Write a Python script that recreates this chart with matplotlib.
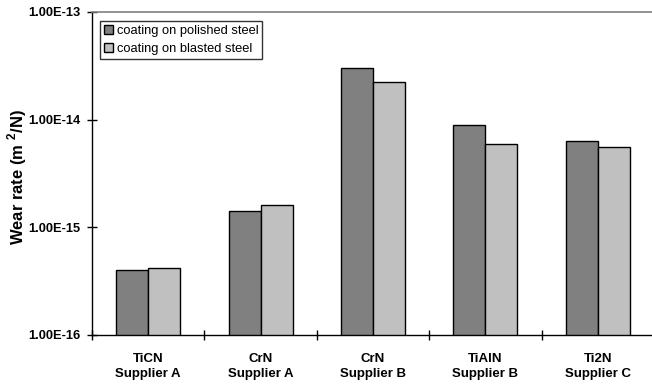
import numpy as np
import matplotlib
matplotlib.use("Agg")
import matplotlib.pyplot as plt
from matplotlib.ticker import FixedLocator, NullLocator

# ---------------- Data ----------------
categories = ["TiCN\nSupplier A", "CrN\nSupplier A", "CrN\nSupplier B",
              "TiAlN\nSupplier B", "Ti2N\nSupplier C"]
polished = [4.0e-16, 1.41e-15, 2.99e-14, 8.97e-15, 6.37e-15]
blasted  = [4.2e-16, 1.60e-15, 2.22e-14, 5.97e-15, 5.60e-15]
series_labels = ["coating on polished steel", "coating on blasted steel"]
ytick_vals = [1e-16, 1e-15, 1e-14, 1e-13]
ytick_labels = ["1.00E-16", "1.00E-15", "1.00E-14", "1.00E-13"]

# ---------------- Plot ----------------
plt.rcParams["font.family"] = ["Liberation Sans", "DejaVu Sans"]
plt.rcParams["mathtext.fontset"] = "custom"
plt.rcParams["mathtext.bf"] = "Liberation Sans:bold"
plt.rcParams["mathtext.rm"] = "Liberation Sans:bold"

fig = plt.figure(figsize=(6.52, 3.87), dpi=100)
ax = fig.add_axes([0.141, 0.1344, 0.862, 0.8346])

x = np.arange(len(categories))
w = 0.285
ax.bar(x - w / 2, polished, width=w, color="#808080", edgecolor="black",
       linewidth=1.0, label=series_labels[0], zorder=2)
ax.bar(x + w / 2, blasted, width=w, color="#c0c0c0", edgecolor="black",
       linewidth=1.0, label=series_labels[1], zorder=2)

ax.set_yscale("log")
ax.set_ylim(1e-16, 1e-13)
ax.yaxis.set_major_locator(FixedLocator(ytick_vals))
ax.yaxis.set_minor_locator(NullLocator())
ax.set_yticklabels(ytick_labels, fontsize=9.3, fontweight="bold")
ax.set_ylabel("Wear rate (m $^{2}$/N)", fontsize=12, fontweight="bold")
ax.yaxis.set_label_coords(-0.112, 0.488)

ax.set_xlim(-0.5, len(categories) - 0.5)
ax.set_xticks(x)
ax.set_xticklabels(categories, fontsize=9.5, fontweight="bold", linespacing=1.35)
ax.tick_params(axis="x", length=0, pad=13)
ax.set_xticks(np.arange(len(categories) + 1) - 0.5, minor=True)
ax.tick_params(axis="x", which="minor", direction="inout", length=7, width=1)
ax.tick_params(axis="y", direction="inout", length=7, width=1, pad=5)

ax.spines["top"].set_color("#808080")
ax.spines["top"].set_linewidth(1.2)
ax.spines["right"].set_visible(False)
ax.spines["left"].set_linewidth(1.0)
ax.spines["bottom"].set_linewidth(1.0)

leg = ax.legend(loc="upper left", bbox_to_anchor=(0.007, 0.985), fontsize=9.3,
                frameon=True, fancybox=False, edgecolor="black",
                handlelength=0.75, handleheight=0.75, handletextpad=0.25,
                borderpad=0.3, labelspacing=0.45, borderaxespad=0.3)
leg.get_frame().set_linewidth(1.0)

fig.savefig("out.png", dpi=100)
